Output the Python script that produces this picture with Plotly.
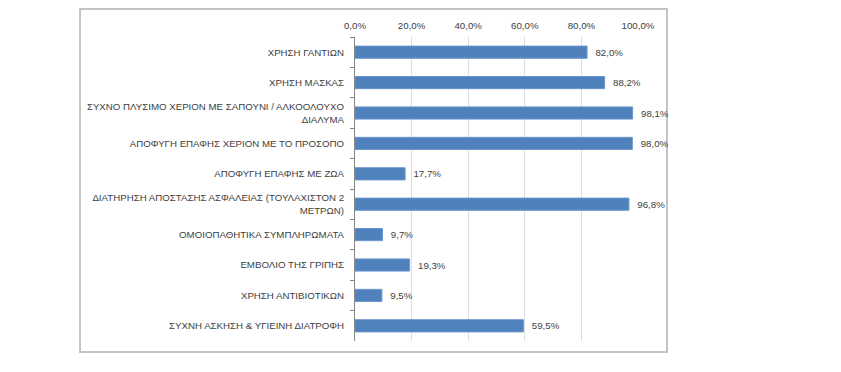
import plotly.graph_objects as go

categories = [
    "ΧΡΗΣΗ ΓΑΝΤΙΩΝ",
    "ΧΡΗΣΗ ΜΑΣΚΑΣ",
    "ΣΥΧΝΟ ΠΛΥΣΙΜΟ ΧΕΡΙΟΝ ΜΕ ΣΑΠΟΥΝΙ / ΑΛΚΟΟΛΟΥΧΟ<br>ΔΙΑΛΥΜΑ",
    "ΑΠΟΦΥΓΗ ΕΠΑΦΗΣ ΧΕΡΙΟΝ ΜΕ ΤΟ ΠΡΟΣΟΠΟ",
    "ΑΠΟΦΥΓΗ ΕΠΑΦΗΣ ΜΕ ΖΩΑ",
    "ΔΙΑΤΗΡΗΣΗ ΑΠΟΣΤΑΣΗΣ ΑΣΦΑΛΕΙΑΣ (ΤΟΥΛΑΧΙΣΤΟΝ 2<br>ΜΕΤΡΩΝ)",
    "ΟΜΟΙΟΠΑΘΗΤΙΚΑ ΣΥΜΠΛΗΡΩΜΑΤΑ",
    "ΕΜΒΟΛΙΟ ΤΗΣ ΓΡΙΠΗΣ",
    "ΧΡΗΣΗ ΑΝΤΙΒΙΟΤΙΚΩΝ",
    "ΣΥΧΝΗ ΑΣΚΗΣΗ & ΥΓΙΕΙΝΗ ΔΙΑΤΡΟΦΗ",
]
values = [82.0, 88.2, 98.1, 98.0, 17.7, 96.8, 9.7, 19.3, 9.5, 59.5]
tick_values = [0, 20, 40, 60, 80, 100]
tick_labels = ["0,0%", "20,0%", "40,0%", "60,0%", "80,0%", "100,0%"]
value_labels = ["  " + f"{v:.1f}%".replace(".", ",") for v in values]

W, H = 841, 372
L, R, T, B = 355, 638, 37, 341
FONT = "Liberation Sans, Arial, sans-serif"
TXT = "#404040"
FS = 9.7

fig = go.Figure(go.Bar(
    y=categories, x=values, orientation="h",
    marker=dict(color="#4F81BD", line=dict(color="#6B96CC", width=1)),
    text=value_labels, textposition="outside", cliponaxis=False,
    textfont=dict(family=FONT, size=FS, color=TXT),
    width=0.4, hoverinfo="skip",
))

def px_x(p):
    return (p - L) / (R - L)

def px_y(p):
    return (B - p) / (B - T)

fig.add_shape(type="rect", xref="paper", yref="paper",
              x0=px_x(80), x1=px_x(667), y0=px_y(352), y1=px_y(9),
              line=dict(color="#C4C4C4", width=2), fillcolor="rgba(0,0,0,0)", layer="below")

fig.update_layout(
    width=W, height=H,
    margin=dict(l=L, r=W - R, t=T, b=H - B, pad=0),
    paper_bgcolor="white", plot_bgcolor="white",
    showlegend=False,
    font=dict(family=FONT, size=FS, color=TXT),
    separators=",.",
    xaxis=dict(
        range=[0, 100], side="top", tickvals=tick_values, ticktext=tick_labels,
        showgrid=True, gridcolor="#D9DEE6", gridwidth=1, zeroline=False,
        showline=False, ticks="", tickfont=dict(family=FONT, size=FS, color=TXT),
        fixedrange=True, automargin=False, ticklabelstandoff=5,
    ),
    yaxis=dict(
        autorange="reversed", showline=True, linecolor="#868686", linewidth=1,
        ticks="outside", ticklen=4, tickcolor="#868686", tickson="boundaries",
        showgrid=False, ticklabelstandoff=8, automargin=False, fixedrange=True,
        tickfont=dict(family=FONT, size=FS, color=TXT),
    ),
)

fig.write_html("out.html", config={"displayModeBar": False},
               post_script="document.body.style.margin='0';document.body.style.overflow='hidden';")
